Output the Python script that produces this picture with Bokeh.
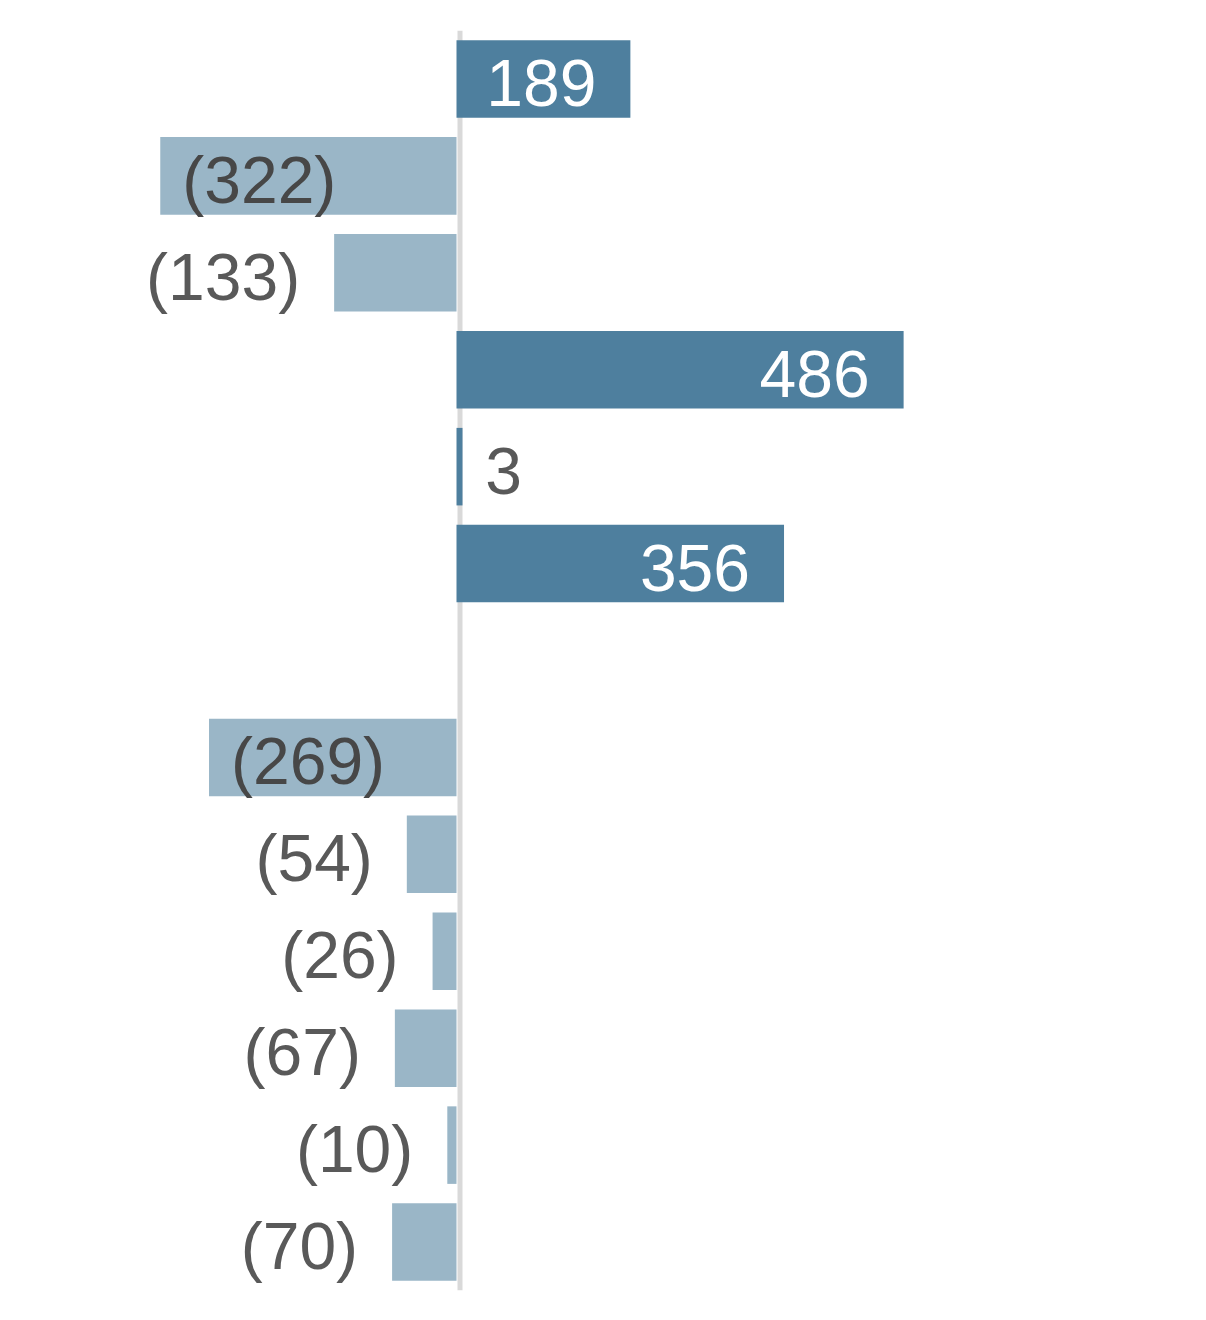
from bokeh.plotting import figure
from bokeh.models import ColumnDataSource, Range1d, Span
from bokeh.core.properties import value
from bokeh.embed import file_html
from bokeh.resources import INLINE

# ---- data (top to bottom; None = empty row) ----
values = [189, -322, -133, 486, 3, 356, None, -269, -54, -26, -67, -10, -70]

POS_COLOR = "#4E7F9E"
NEG_COLOR = "#9AB6C7"
FONT = "Liberation Sans"

W, H = 1190, 1304
zero_px = 456
px_per_unit = 0.92
x_start = -zero_px / px_per_unit
x_end = (W - zero_px) / px_per_unit

rows = [i + 1 for i in range(len(values))]

bars = dict(y=[], left=[], right=[], color=[])
lab = {k: dict(x=[], y=[], text=[]) for k in ("pos_in", "neg_in", "pos_out", "neg_out")}


def fmt(v):
    return f"({abs(v):,})" if v < 0 else f"{v:,}"


for r, v in zip(rows, values):
    if v is None:
        continue
    bars["y"].append(r)
    bars["left"].append(min(0, v))
    bars["right"].append(max(0, v))
    bars["color"].append(POS_COLOR if v >= 0 else NEG_COLOR)
    inside = abs(v) >= 150
    key = ("pos" if v >= 0 else "neg") + ("_in" if inside else "_out")
    lab[key]["x"].append(v)
    lab[key]["y"].append(r)
    lab[key]["text"].append(fmt(v))

p = figure(width=W, height=H, output_backend="svg", toolbar_location=None,
           x_range=Range1d(x_start, x_end),
           y_range=Range1d(len(values) + 0.5, 0.5),
           min_border_left=0, min_border_right=0,
           min_border_top=30, min_border_bottom=14)
p.axis.visible = False
p.grid.visible = False
p.outline_line_color = None
p.background_fill_color = "white"
p.border_fill_color = "white"

zero_line = Span(location=3.5 / px_per_unit, dimension="height",
                 line_color="#D9D9D9", line_width=5, level="underlay")
p.add_layout(zero_line)

# minimum visible width for tiny bars
min_w = 6 / px_per_unit
bars["right"] = [rt if (rt - lf) >= min_w or lf < 0 else lf + min_w
                 for lf, rt in zip(bars["left"], bars["right"])]
p.hbar(y="y", left="left", right="right", height=0.8, color="color",
       line_color=None, source=ColumnDataSource(bars))

common = dict(text_font=value(FONT), text_font_size="66px",
              text_baseline="middle", y_offset=4)
p.text(x="x", y="y", text="text", source=ColumnDataSource(lab["pos_in"]),
       text_color="white", text_align="right", x_offset=-34, **common)
p.text(x="x", y="y", text="text", source=ColumnDataSource(lab["neg_in"]),
       text_color="#474747", text_align="left", x_offset=22, **common)
p.text(x="x", y="y", text="text", source=ColumnDataSource(lab["pos_out"]),
       text_color="#595959", text_align="left", x_offset=26, **common)
p.text(x="x", y="y", text="text", source=ColumnDataSource(lab["neg_out"]),
       text_color="#595959", text_align="right", x_offset=-34, **common)

open("out.html", "w").write(file_html(p, INLINE))
